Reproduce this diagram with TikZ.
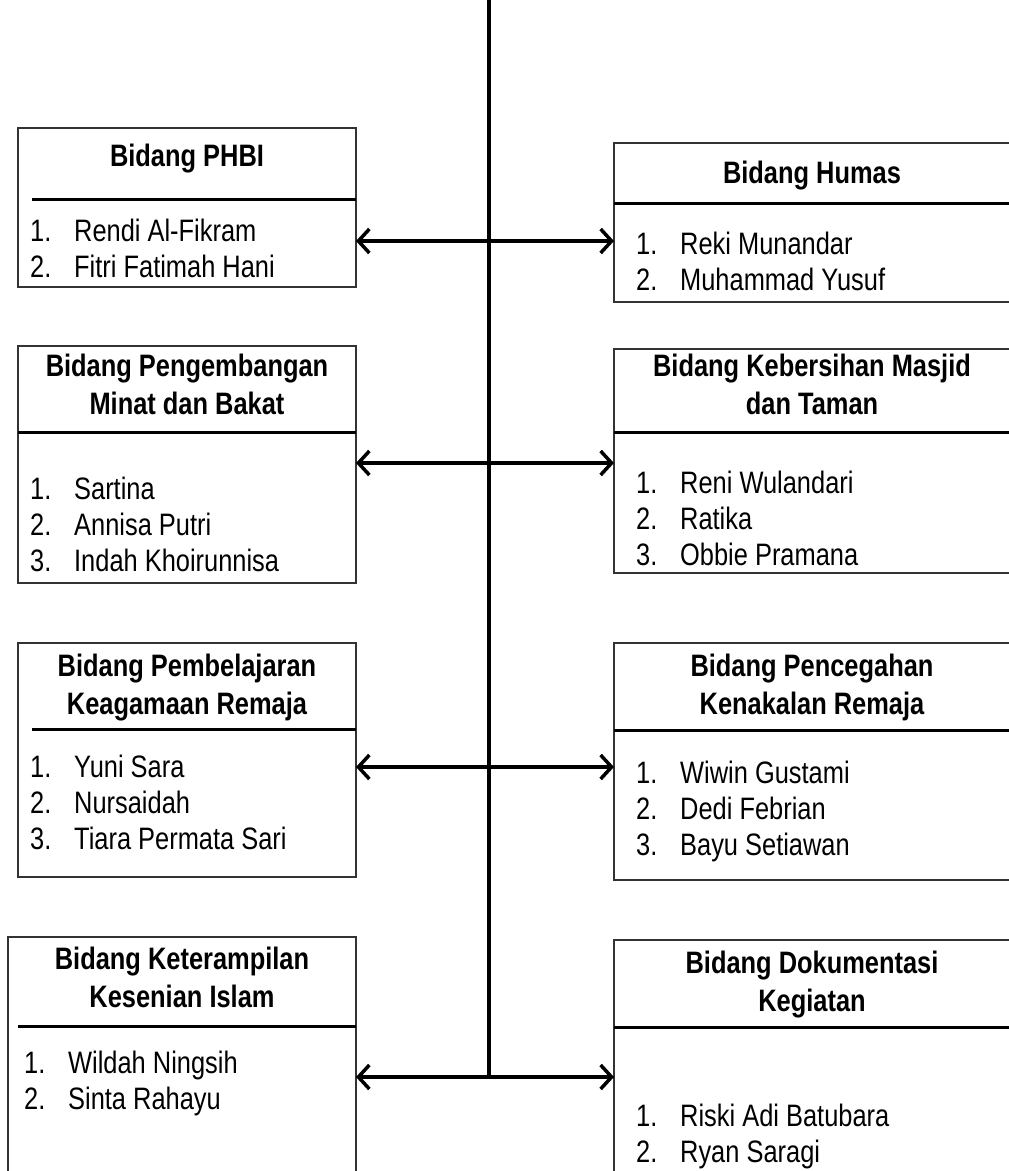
\documentclass[tikz,border=0pt]{standalone}
\usepackage{fontspec}
\setmainfont{Liberation Sans}[FakeStretch=0.82]
\usetikzlibrary{arrows.meta}
\newcommand{\itm}[2]{\makebox[44pt][l]{#1}#2}
\tikzset{
  box/.style={draw=black!80, line width=1.4pt, inner sep=0pt, outer sep=0pt, fill=none},
  sepline/.style={line width=3pt, black},
  vline/.style={line width=4pt, black},
  arr/.style={line width=3.5pt, black, {Straight Barb[length=11pt,width=24pt,line width=3.5pt]}-{Straight Barb[length=11pt,width=24pt,line width=3.5pt]}},
  ttl/.style={anchor=base, inner sep=0pt, font=\fontsize{31}{38}\selectfont\bfseries},
  lst/.style={anchor=base west, inner sep=0pt, font=\fontsize{31}{36}\selectfont}
}
\begin{document}
\begin{tikzpicture}[x=1pt,y=-1pt]
\useasboundingbox (0,0) rectangle (1009,1171);
% boxes
\node[box, minimum width=338pt, minimum height=159pt] (phbi) at (187,207.5) {};
\node[box, minimum width=401pt, minimum height=159pt] (humas) at (814.5,222.5) {};
\node[box, minimum width=338pt, minimum height=237pt] (peng) at (187,464.5) {};
\node[box, minimum width=401pt, minimum height=224pt] (keb) at (814.5,461) {};
\node[box, minimum width=338pt, minimum height=234pt] (pemb) at (187,760) {};
\node[box, minimum width=401pt, minimum height=237pt] (penc) at (814.5,761.5) {};
\node[box, minimum width=348pt, minimum height=243pt] (ket) at (182,1058.5) {};
\node[box, minimum width=401pt, minimum height=240pt] (dok) at (814.5,1060) {};
% separators
\draw[sepline] ([xshift=14pt,yshift=-71pt]phbi.north west) -- ([yshift=-71pt]phbi.north east);
\draw[sepline] ([yshift=-60pt]humas.north west) -- ([yshift=-60pt]humas.north east);
\draw[sepline] ([yshift=-86pt]peng.north west) -- ([yshift=-86pt]peng.north east);
\draw[sepline] ([yshift=-83pt]keb.north west) -- ([yshift=-83pt]keb.north east);
\draw[sepline] ([xshift=14pt,yshift=-86pt]pemb.north west) -- ([yshift=-86pt]pemb.north east);
\draw[sepline] ([yshift=-87pt]penc.north west) -- ([yshift=-87pt]penc.north east);
\draw[sepline] ([xshift=10pt,yshift=-89pt]ket.north west) -- ([yshift=-89pt]ket.north east);
\draw[sepline] ([yshift=-87pt]dok.north west) -- ([yshift=-87pt]dok.north east);
% titles
\node[ttl] (phbi-t) at (187,166) {Bidang PHBI};
\node[ttl] (humas-t) at (812,183) {Bidang Humas};
\node[ttl] (peng-t) at (187,376) {\begin{tabular}[t]{@{}c@{}}Bidang Pengembangan\\Minat dan Bakat\end{tabular}};
\node[ttl] (keb-t) at (812,376) {\begin{tabular}[t]{@{}c@{}}Bidang Kebersihan Masjid\\dan Taman\end{tabular}};
\node[ttl] (pemb-t) at (187,676) {\begin{tabular}[t]{@{}c@{}}Bidang Pembelajaran\\Keagamaan Remaja\end{tabular}};
\node[ttl] (penc-t) at (812,676) {\begin{tabular}[t]{@{}c@{}}Bidang Pencegahan\\Kenakalan Remaja\end{tabular}};
\node[ttl] (ket-t) at (182,969) {\begin{tabular}[t]{@{}c@{}}Bidang Keterampilan\\Kesenian Islam\end{tabular}};
\node[ttl] (dok-t) at (812,973) {\begin{tabular}[t]{@{}c@{}}Bidang Dokumentasi\\Kegiatan\end{tabular}};
% lists
\node[lst] (phbi-l) at (30,241) {\begin{tabular}[t]{@{}l@{}}\itm{1.}{Rendi Al-Fikram}\\\itm{2.}{Fitri Fatimah Hani}\end{tabular}};
\node[lst] (humas-l) at (636,254) {\begin{tabular}[t]{@{}l@{}}\itm{1.}{Reki Munandar}\\\itm{2.}{Muhammad Yusuf}\end{tabular}};
\node[lst] (peng-l) at (30,499) {\begin{tabular}[t]{@{}l@{}}\itm{1.}{Sartina}\\\itm{2.}{Annisa Putri}\\\itm{3.}{Indah Khoirunnisa}\end{tabular}};
\node[lst] (keb-l) at (636,493) {\begin{tabular}[t]{@{}l@{}}\itm{1.}{Reni Wulandari}\\\itm{2.}{Ratika}\\\itm{3.}{Obbie Pramana}\end{tabular}};
\node[lst] (pemb-l) at (30,777) {\begin{tabular}[t]{@{}l@{}}\itm{1.}{Yuni Sara}\\\itm{2.}{Nursaidah}\\\itm{3.}{Tiara Permata Sari}\end{tabular}};
\node[lst] (penc-l) at (636,783) {\begin{tabular}[t]{@{}l@{}}\itm{1.}{Wiwin Gustami}\\\itm{2.}{Dedi Febrian}\\\itm{3.}{Bayu Setiawan}\end{tabular}};
\node[lst] (ket-l) at (24,1073) {\begin{tabular}[t]{@{}l@{}}\itm{1.}{Wildah Ningsih}\\\itm{2.}{Sinta Rahayu}\end{tabular}};
\node[lst] (dok-l) at (636,1126) {\begin{tabular}[t]{@{}l@{}}\itm{1.}{Riski Adi Batubara}\\\itm{2.}{Ryan Saragi}\end{tabular}};
% spine and arrows
\coordinate (top) at (489,0);
\coordinate (a1) at (489,241);
\coordinate (a2) at (489,463);
\coordinate (a3) at (489,767);
\coordinate (a4) at (489,1077);
\draw[vline] (top) -- (a4);
\draw[arr] (phbi.east |- a1) -- (humas.west |- a1);
\draw[arr] (peng.east |- a2) -- (keb.west |- a2);
\draw[arr] (pemb.east |- a3) -- (penc.west |- a3);
\draw[arr] (ket.east |- a4) -- (dok.west |- a4);
\end{tikzpicture}
\end{document}
